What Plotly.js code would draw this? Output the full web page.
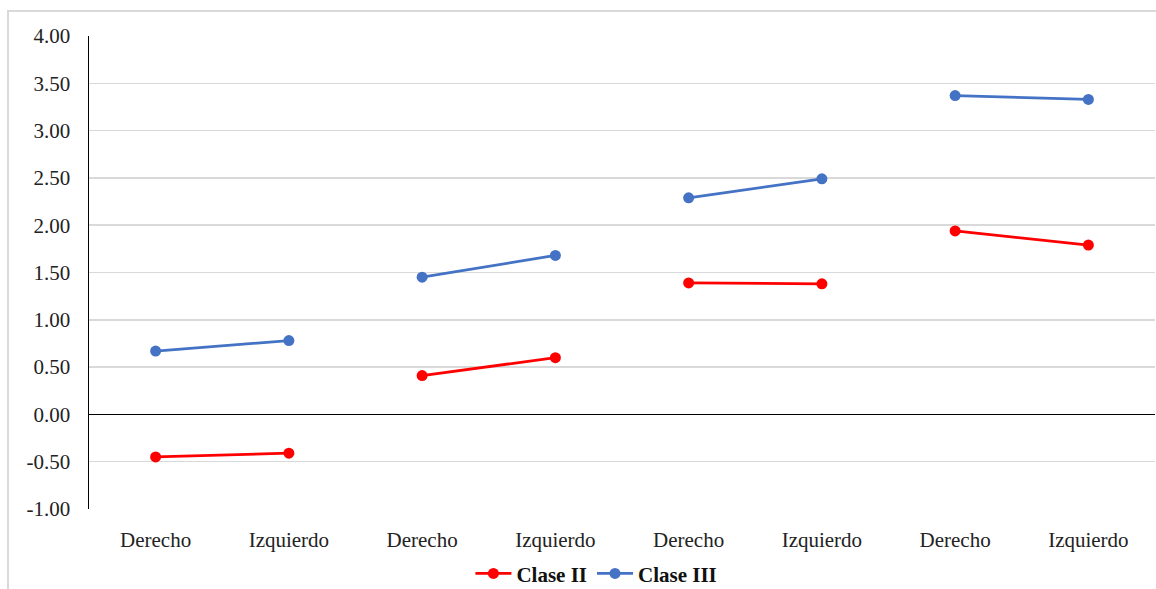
<!DOCTYPE html>
<html>
<head>
<meta charset="utf-8">
<script src="https://cdn.plot.ly/plotly-3.0.1.min.js"></script>
<style>
  html, body { margin: 0; padding: 0; background: #fff; overflow: hidden; }
  #frame { position: absolute; left: 7px; top: 10px; width: 1160px; height: 600px; border: 2px solid #d9d9d9; box-sizing: border-box; }
  #chart { position: absolute; left: 0; top: 0; width: 1156px; height: 589px; }
</style>
</head>
<body>
<div id="frame"></div>
<div id="chart"></div>
<script>
// Data
const categories = ["Derecho", "Izquierdo", "Derecho", "Izquierdo", "Derecho", "Izquierdo", "Derecho", "Izquierdo"];
const claseII  = [-0.45, -0.41, 0.41, 0.60, 1.39, 1.38, 1.94, 1.79];
const claseIII = [0.67, 0.78, 1.45, 1.68, 2.29, 2.49, 3.37, 3.33];
const seriesNames = ["Clase II", "Clase III"];
const seriesColors = ["#ff0000", "#4472c4"];
const yTickValues = [-1, -0.5, 0, 0.5, 1, 1.5, 2, 2.5, 3, 3.5, 4];
const yTickLabels = ["-1.00", "-0.50", "0.00", "0.50", "1.00", "1.50", "2.00", "2.50", "3.00", "3.50", "4.00"];

const positions = categories.map((c, i) => i);
const traces = [];
[claseII, claseIII].forEach((vals, s) => {
  for (let g = 0; g < vals.length; g += 2) {
    traces.push({
      type: "scatter",
      mode: "lines+markers",
      x: positions.slice(g, g + 2),
      y: vals.slice(g, g + 2),
      name: seriesNames[s],
      legendgroup: seriesNames[s],
      showlegend: g === 0,
      line: { color: seriesColors[s], width: 2.75 },
      marker: { color: seriesColors[s], size: 11 },
      hoverinfo: "x+y"
    });
  }
});

const layout = {
  width: 1156,
  height: 589,
  margin: { l: 89, r: 1, t: 36, b: 80, autoexpand: false },
  paper_bgcolor: "rgba(0,0,0,0)",
  plot_bgcolor: "rgba(0,0,0,0)",
  font: { family: "Liberation Serif, Times New Roman, serif", size: 21, color: "#222" },
  xaxis: {
    range: [-0.5, 7.5],
    tickmode: "array",
    tickvals: positions,
    ticktext: categories,
    showgrid: false,
    zeroline: false,
    showline: false,
    ticks: "",
    ticklabelstandoff: 16,
    tickfont: { size: 21, color: "#222" }
  },
  yaxis: {
    range: [-1, 4],
    tickmode: "array",
    tickvals: yTickValues,
    ticktext: yTickLabels,
    showgrid: true,
    gridcolor: "#d9d9d9",
    gridwidth: 1.5,
    zeroline: true,
    zerolinecolor: "#000",
    zerolinewidth: 1.75,
    showline: true,
    linecolor: "#000",
    linewidth: 1.5,
    ticks: "",
    ticklabelstandoff: 13,
    tickfont: { size: 21, color: "#222" }
  },
  showlegend: true,
  legend: {
    orientation: "h",
    x: 0.476,
    xanchor: "center",
    y: -0.137,
    yanchor: "middle",
    font: { size: 21, color: "#111", weight: "bold" },
    itemwidth: 36,
    tracegroupgap: 0
  }
};

Plotly.newPlot("chart", traces, layout, { displayModeBar: false, staticPlot: true });
</script>
</body>
</html>
